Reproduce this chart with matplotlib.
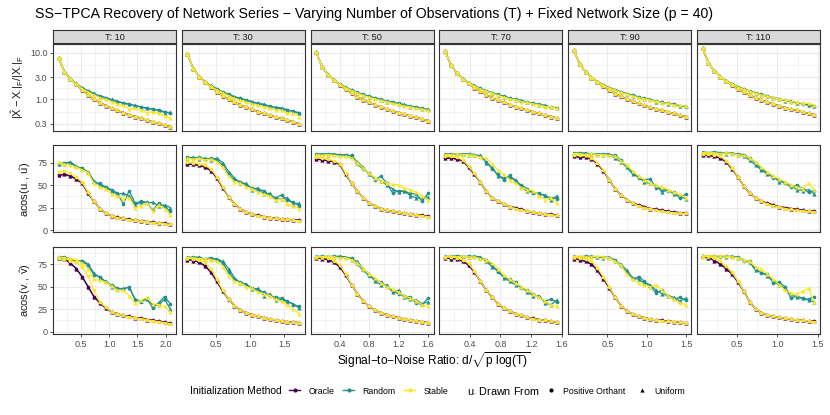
import numpy as np
import matplotlib.pyplot as plt
from matplotlib.lines import Line2D
from matplotlib.ticker import FixedLocator, NullFormatter

plt.rcParams['font.family'] = ['Liberation Sans', 'DejaVu Sans']
plt.rcParams['mathtext.fontset'] = 'custom'
plt.rcParams['mathtext.rm'] = 'Liberation Sans'
plt.rcParams['mathtext.it'] = 'Liberation Sans'
plt.rcParams['mathtext.bf'] = 'Liberation Sans:bold'

# ---- data -------------------------------------------------------------
T_values = [10, 30, 50, 70, 90, 110]
p_size = 40
snr_d = [1, 2, 3, 4, 5, 6, 7, 8, 9, 10, 11, 12, 13, 14, 15, 16, 17, 18, 19, 20]

methods = ['Oracle', 'Random', 'Stable']
method_colors = ['#440154', '#21908C', '#FDE725']
draws = ['Positive Orthant', 'Uniform']
draw_markers = ['o', '^']

# relative error |X^ - X|_F / |X|_F   (one list per T)
err_oracle = [
    [7.6, 3.9, 2.7, 2.1, 1.6, 1.25, 1.0, 0.85, 0.74, 0.65, 0.58, 0.52, 0.47, 0.43, 0.39, 0.36, 0.33, 0.31, 0.28, 0.26],
    [9.5, 4.6, 3.1, 2.35, 1.85, 1.45, 1.2, 1.0, 0.87, 0.77, 0.68, 0.61, 0.55, 0.5, 0.46, 0.42, 0.39, 0.36, 0.33, 0.30],
    [10.2, 5.0, 3.4, 2.6, 2.05, 1.65, 1.35, 1.13, 0.98, 0.86, 0.77, 0.69, 0.62, 0.56, 0.52, 0.48, 0.44, 0.41, 0.38, 0.35],
    [11.0, 5.4, 3.7, 2.8, 2.2, 1.8, 1.5, 1.26, 1.09, 0.96, 0.86, 0.77, 0.7, 0.64, 0.59, 0.54, 0.5, 0.46, 0.43, 0.4],
    [11.6, 5.7, 3.9, 2.95, 2.35, 1.9, 1.58, 1.34, 1.16, 1.02, 0.91, 0.82, 0.75, 0.68, 0.63, 0.58, 0.54, 0.5, 0.46, 0.43],
    [12.5, 6.0, 4.1, 3.1, 2.45, 2.0, 1.67, 1.42, 1.23, 1.08, 0.97, 0.88, 0.8, 0.73, 0.67, 0.62, 0.58, 0.54, 0.5, 0.47],
]
err_random_po = [
    [7.6, 3.9, 2.75, 2.15, 1.8, 1.5, 1.3, 1.2, 1.1, 0.98, 0.9, 0.85, 0.8, 0.72, 0.7, 0.64, 0.62, 0.58, 0.55, 0.5],
    [9.5, 4.6, 3.1, 2.4, 1.95, 1.65, 1.45, 1.3, 1.15, 1.05, 0.95, 0.88, 0.82, 0.76, 0.72, 0.66, 0.63, 0.58, 0.56, 0.52],
    [10.2, 5.0, 3.4, 2.6, 2.1, 1.8, 1.6, 1.42, 1.28, 1.17, 1.08, 1.0, 0.93, 0.86, 0.82, 0.76, 0.72, 0.68, 0.64, 0.6],
    [11.0, 5.4, 3.7, 2.8, 2.3, 1.95, 1.72, 1.55, 1.4, 1.28, 1.17, 1.08, 1.0, 0.94, 0.88, 0.82, 0.78, 0.73, 0.69, 0.65],
    [11.6, 5.7, 3.9, 2.95, 2.4, 2.05, 1.8, 1.62, 1.47, 1.34, 1.23, 1.14, 1.06, 0.99, 0.93, 0.87, 0.82, 0.78, 0.74, 0.7],
    [12.5, 6.0, 4.1, 3.1, 2.5, 2.15, 1.88, 1.68, 1.52, 1.4, 1.28, 1.18, 1.1, 1.02, 0.96, 0.9, 0.85, 0.8, 0.76, 0.72],
]
err_random_un = [
    [7.7, 4.0, 2.8, 2.2, 1.75, 1.55, 1.35, 1.15, 1.05, 1.0, 0.92, 0.82, 0.78, 0.75, 0.68, 0.66, 0.6, 0.6, 0.52, 0.53],
    [9.6, 4.7, 3.15, 2.4, 2.0, 1.7, 1.45, 1.25, 1.12, 1.05, 0.98, 0.9, 0.8, 0.8, 0.7, 0.68, 0.66, 0.6, 0.55, 0.5],
    [10.3, 5.1, 3.45, 2.65, 2.15, 1.85, 1.58, 1.4, 1.25, 1.15, 1.05, 0.98, 0.9, 0.88, 0.8, 0.78, 0.7, 0.7, 0.62, 0.62],
    [11.1, 5.5, 3.75, 2.85, 2.3, 2.0, 1.7, 1.52, 1.38, 1.25, 1.15, 1.06, 0.98, 0.95, 0.86, 0.84, 0.76, 0.75, 0.68, 0.67],
    [11.7, 5.8, 3.95, 3.0, 2.42, 2.08, 1.78, 1.6, 1.44, 1.32, 1.2, 1.12, 1.04, 1.0, 0.9, 0.89, 0.8, 0.8, 0.72, 0.72],
    [12.6, 6.1, 4.15, 3.15, 2.52, 2.18, 1.86, 1.66, 1.5, 1.38, 1.25, 1.16, 1.08, 1.04, 0.94, 0.92, 0.84, 0.82, 0.75, 0.74],
]
err_stable_un = [
    [7.7, 3.9, 2.7, 2.15, 1.7, 1.45, 1.25, 1.1, 1.0, 0.9, 0.8, 0.75, 0.62, 0.65, 0.6, 0.52, 0.55, 0.5, 0.45, 0.4],
    [9.6, 4.6, 3.1, 2.4, 1.9, 1.6, 1.4, 1.2, 1.05, 0.95, 0.88, 0.8, 0.75, 0.7, 0.65, 0.6, 0.58, 0.5, 0.5, 0.43],
    [10.3, 5.0, 3.4, 2.6, 2.1, 1.78, 1.55, 1.38, 1.22, 1.12, 1.02, 0.95, 0.9, 0.82, 0.78, 0.72, 0.7, 0.64, 0.62, 0.58],
    [11.1, 5.4, 3.7, 2.8, 2.25, 1.92, 1.68, 1.5, 1.36, 1.22, 1.12, 1.04, 0.98, 0.9, 0.86, 0.8, 0.76, 0.7, 0.7, 0.64],
    [11.7, 5.7, 3.9, 2.95, 2.38, 2.02, 1.76, 1.58, 1.42, 1.3, 1.19, 1.1, 1.04, 0.96, 0.92, 0.85, 0.82, 0.76, 0.76, 0.72],
    [12.6, 6.0, 4.1, 3.1, 2.5, 2.12, 1.84, 1.65, 1.5, 1.36, 1.25, 1.16, 1.1, 1.02, 0.98, 0.9, 0.88, 0.82, 0.82, 0.76],
]

# angle between u and u-hat (degrees)
angu_oracle = [
    [61, 62, 60, 57, 52, 41, 32, 24, 19, 16, 14.5, 13, 12, 11, 10.5, 9.5, 9, 8, 7.5, 7],
    [73, 73, 72, 70, 66, 58, 47, 37, 29, 24, 20, 18, 16.5, 15, 14, 13.5, 12.5, 12, 11.5, 11],
    [79, 78, 77, 76, 73, 62, 52, 43, 36, 30, 27, 24, 22, 21, 20, 19, 18, 17, 16.5, 15.5],
    [80, 80, 79, 77, 70, 62, 53, 43, 36, 32, 29, 26, 25, 23, 21, 20, 19, 18, 17.5, 17],
    [82, 81, 81, 79, 74, 66, 56, 46, 39, 34, 30, 28, 26, 24, 23, 22, 21, 20, 19.5, 19],
    [83, 83, 82, 80, 76, 68, 59, 49, 41, 36, 32, 30, 28, 26, 25, 24, 23, 22, 21.5, 21],
]
angu_stable_po = [
    [65, 66, 63, 59, 53, 42, 32, 24, 19, 16, 14, 13, 11.5, 11, 10, 9.5, 8.5, 8, 7, 6.5],
    [76, 75, 74, 72, 68, 59, 48, 37, 29, 24, 20, 18, 16, 15, 14, 13, 12.5, 12, 11, 10.5],
    [81, 80, 79, 77, 74, 63, 52, 43, 36, 30, 27, 24, 22, 21, 20, 19, 18, 17, 16, 15],
    [82, 82, 81, 78, 71, 63, 53, 43, 36, 32, 29, 26, 24, 22, 21, 20, 19, 18, 17, 16.5],
    [84, 84, 83, 80, 75, 67, 56, 46, 39, 34, 30, 27, 25, 24, 22, 21, 20, 19.5, 19, 18.5],
    [85, 85, 84, 82, 77, 69, 59, 49, 41, 36, 32, 29, 27, 26, 24, 23, 22, 21.5, 21, 20.5],
]
angu_random_po = [
    [73, 75, 75, 70, 69, 64, 53, 52, 48, 45, 41, 29, 44, 30, 32, 31, 22, 30, 26, 21],
    [81, 80, 81, 79, 80, 78, 72, 62, 56, 54, 50, 47, 45, 44, 38, 36, 39, 33, 31, 27],
    [85, 84, 85, 84, 84, 83, 83, 73, 68, 63, 56, 60, 52, 41, 44, 43, 41, 40, 32, 41],
    [84, 85, 84, 84, 85, 84, 82, 76, 68, 62, 56, 61, 54, 50, 46, 41, 41, 38, 36, 35],
    [85, 86, 85, 85, 84, 85, 84, 83, 78, 71, 64, 58, 56, 57, 47, 46, 44, 42, 36, 40],
    [86, 86, 87, 86, 86, 85, 85, 84, 80, 75, 68, 64, 58, 56, 52, 48, 50, 46, 42, 44],
]
angu_random_un = [
    [74, 74, 76, 71, 68, 65, 55, 50, 47, 44, 40, 41, 38, 28, 31, 30, 31, 27, 28, 25],
    [80, 81, 79, 80, 78, 80, 75, 65, 58, 52, 52, 45, 47, 40, 41, 34, 35, 36, 29, 30],
    [84, 85, 84, 85, 83, 84, 82, 76, 70, 62, 58, 55, 50, 46, 42, 44, 38, 36, 35, 37],
    [85, 84, 85, 85, 84, 83, 83, 75, 70, 60, 58, 59, 56, 48, 43, 42, 40, 39, 33, 38],
    [86, 85, 86, 84, 85, 84, 85, 80, 76, 70, 62, 60, 53, 52, 50, 42, 45, 40, 38, 35],
    [87, 86, 86, 86, 85, 86, 84, 82, 78, 72, 67, 62, 60, 54, 53, 50, 45, 44, 45, 40],
]
angu_stable_un = [
    [76, 73, 72, 70, 67, 64, 52, 48, 46, 40, 38, 35, 36, 25, 27, 30, 21, 28, 24, 17],
    [80, 79, 80, 78, 79, 76, 70, 60, 54, 52, 48, 46, 42, 40, 38, 33, 35, 29, 27, 24],
    [84, 83, 84, 83, 82, 82, 80, 75, 69, 63, 58, 55, 52, 51, 50, 47, 45, 42, 38, 34],
    [84, 84, 85, 84, 84, 83, 81, 80, 74, 67, 62, 56, 52, 47, 45, 44, 38, 34, 36, 30],
    [85, 85, 84, 85, 84, 84, 83, 82, 77, 72, 66, 60, 56, 52, 50, 48, 45, 42, 40, 36],
    [86, 86, 86, 85, 86, 85, 84, 83, 80, 76, 70, 65, 60, 57, 54, 50, 48, 46, 52, 45],
]

# angle between v and v-hat (degrees)
angv_oracle = [
    [82, 81, 76, 70, 61, 50, 39, 32, 26, 22, 20, 18, 17, 15.5, 15, 13.5, 12.5, 11.5, 10.5, 9.6],
    [80, 79, 77, 73, 66, 56, 45, 36, 29, 24, 21, 19, 17, 15.5, 14, 13, 12, 11, 10.5, 10],
    [82, 81, 80, 77, 72, 63, 52, 42, 34, 28, 24, 21, 19, 17, 15.5, 14, 13, 12, 11, 10],
    [82, 81, 81, 78, 74, 66, 56, 46, 38, 31, 26, 23, 20, 18, 16, 15, 13.5, 12.5, 11.5, 10.5],
    [81, 80, 78, 75, 68, 59, 49, 38, 29, 23, 19.5, 17, 15.5, 14, 13, 12.5, 12, 11, 10.5, 10],
    [84, 82, 79, 75, 70, 64, 55, 45, 33, 25, 21, 18.5, 17, 16, 15, 14, 13, 12.5, 12, 11.4],
]
angv_stable_po = [
    [82, 82, 79, 77, 72, 62, 46, 33, 27, 22, 20, 18, 16.5, 15.5, 14.5, 13, 12, 11, 10, 9],
    [82, 81, 80, 77, 70, 58, 46, 36, 29, 24, 21, 19, 17, 15.5, 14, 13, 12, 11, 10.5, 9.5],
    [83, 83, 82, 79, 74, 64, 52, 42, 34, 28, 24, 21, 19, 17, 15, 14, 13, 12, 11, 10],
    [83, 83, 82, 80, 76, 67, 56, 46, 38, 31, 26, 23, 20, 18, 16, 14.5, 13.5, 12.5, 11.5, 10.5],
    [83, 82, 81, 78, 71, 61, 50, 38, 29, 23, 19.5, 17, 15.5, 14, 13, 12, 11.5, 11, 10.5, 10],
    [84, 84, 82, 78, 73, 66, 56, 45, 33, 25, 21, 18.5, 17, 16, 15, 14, 13, 12.5, 12, 11],
]
angv_random_po = [
    [83, 83, 80, 79, 78, 74, 63, 61, 55, 52, 48, 47, 50, 35, 33, 37, 26, 32, 39, 31],
    [82, 83, 82, 81, 82, 80, 76, 66, 58, 55, 52, 48, 46, 44, 40, 38, 37, 34, 30, 28],
    [83, 84, 83, 84, 83, 82, 82, 75, 68, 62, 58, 55, 50, 45, 42, 40, 38, 32, 30, 37],
    [83, 84, 84, 83, 84, 83, 82, 80, 74, 66, 61, 58, 55, 48, 46, 42, 38, 34, 36, 33],
    [83, 83, 84, 83, 83, 83, 82, 80, 73, 66, 58, 61, 56, 50, 43, 46, 40, 36, 38, 35],
    [83, 84, 84, 83, 84, 83, 83, 79, 78, 70, 65, 64, 54, 55, 50, 37, 40, 37, 36, 39],
]
angv_random_un = [
    [82, 82, 81, 78, 79, 75, 65, 60, 56, 50, 47, 48, 49, 36, 34, 36, 30, 30, 36, 25],
    [83, 82, 83, 80, 81, 81, 78, 70, 60, 54, 53, 47, 48, 40, 42, 35, 36, 33, 31, 26],
    [84, 83, 84, 83, 84, 83, 80, 78, 70, 64, 56, 52, 52, 44, 46, 38, 36, 35, 31, 33],
    [84, 83, 84, 84, 83, 84, 83, 78, 72, 68, 60, 56, 52, 50, 44, 40, 40, 32, 30, 35],
    [84, 83, 83, 84, 83, 82, 83, 78, 75, 68, 60, 58, 54, 52, 46, 42, 40, 38, 34, 37],
    [84, 83, 83, 84, 83, 84, 82, 80, 77, 68, 66, 62, 56, 52, 48, 42, 38, 37, 35, 33],
]
angv_stable_un = [
    [83, 81, 81, 80, 76, 70, 58, 57, 55, 51, 46, 46, 40, 32, 35, 38, 31, 30, 28, 22],
    [82, 82, 81, 81, 80, 78, 72, 62, 56, 54, 50, 48, 44, 42, 40, 36, 34, 30, 25, 20],
    [83, 83, 84, 83, 82, 82, 80, 76, 70, 64, 60, 54, 50, 47, 44, 40, 37, 34, 30, 28],
    [83, 84, 83, 84, 83, 83, 81, 80, 76, 70, 63, 58, 54, 50, 46, 42, 38, 34, 30, 28],
    [83, 84, 83, 83, 84, 83, 82, 78, 74, 64, 58, 54, 52, 50, 52, 46, 40, 36, 32, 30],
    [83, 84, 84, 84, 84, 83, 82, 80, 78, 72, 70, 64, 59, 52, 46, 43, 42, 45, 48, 33],
]

row_labels = [r'$|\hat{X} - X_{\cdot}|_F / |X_{\cdot}|_F$',
              r'$\mathrm{acos}(u_{\cdot}\,,\,\hat{u})$',
              r'$\mathrm{acos}(v_{\cdot}\,,\,\hat{v})$']
x_ticks = [[0.5, 1.0, 1.5, 2.0], [0.5, 1.0, 1.5], [0.4, 0.8, 1.2, 1.6],
           [0.4, 0.8, 1.2, 1.6], [0.5, 1.0, 1.5], [0.5, 1.0, 1.5]]

# (method index, draw index) -> series per row
rows = [
    {(0, 0): err_oracle, (0, 1): err_oracle, (1, 0): err_random_po,
     (1, 1): err_random_un, (2, 0): err_oracle, (2, 1): err_stable_un},
    {(0, 0): angu_oracle, (0, 1): angu_oracle, (1, 0): angu_random_po,
     (1, 1): angu_random_un, (2, 0): angu_stable_po, (2, 1): angu_stable_un},
    {(0, 0): angv_oracle, (0, 1): angv_oracle, (1, 0): angv_random_po,
     (1, 1): angv_random_un, (2, 0): angv_stable_po, (2, 1): angv_stable_un},
]

# ---- layout (pixels) --------------------------------------------------
W, H = 830, 415
fig = plt.figure(figsize=(W / 100, H / 100), dpi=100)


def box(l, t, w, h):
    return [l / W, 1 - (t + h) / H, w / W, h / H]


col_left = [53 + i * 128.8 for i in range(6)]
row_top = [44, 145.5, 247]
pw, ph = 123, 87
grid_c = '#EBEBEB'
frame_c = '#333333'
tick_lab_c = '#4D4D4D'

for j, T in enumerate(T_values):
    x = np.array(snr_d) / np.sqrt(p_size * np.log(T))
    span = x.max() - x.min()
    xlim = (x.min() - 0.05 * span, x.max() + 0.05 * span)

    # strip on top of each column
    sax = fig.add_axes(box(col_left[j], 30, pw, 13.5))
    sax.set_facecolor('#D9D9D9')
    sax.set_xticks([])
    sax.set_yticks([])
    for s in sax.spines.values():
        s.set_color(frame_c)
        s.set_linewidth(0.8)
    sax.text(0.5, 0.48, f'T: {T}', ha='center', va='center', fontsize=6.6,
             color='#1A1A1A', transform=sax.transAxes)

    for i in range(3):
        ax = fig.add_axes(box(col_left[j], row_top[i], pw, ph))
        series = rows[i]
        for (m, d) in [(0, 0), (0, 1), (1, 0), (1, 1), (2, 0), (2, 1)]:
            ax.plot(x, series[(m, d)][j], color=method_colors[m], lw=0.9,
                    marker=draw_markers[d], ms=2.6 if d == 0 else 3.0,
                    markeredgewidth=0, zorder=3)

        ax.set_xlim(xlim)
        xt = x_ticks[j]
        ax.xaxis.set_major_locator(FixedLocator(xt))
        step = xt[1] - xt[0]
        ax.xaxis.set_minor_locator(FixedLocator(
            [t - step / 2 for t in xt] + [xt[-1] + step / 2]))
        if i == 0:
            ax.set_yscale('log')
            ax.set_ylim(0.21, 15.5)
            yt = [0.3, 1.0, 3.0, 10.0]
            ax.yaxis.set_major_locator(FixedLocator(yt))
            ax.yaxis.set_minor_locator(FixedLocator([0.548, 1.732, 5.477]))
            ax.yaxis.set_minor_formatter(NullFormatter())
            ylabs = ['0.3', '1.0', '3.0', '10.0']
        else:
            ax.set_ylim(-2.6, 94)
            yt = [0, 25, 50, 75]
            ax.yaxis.set_major_locator(FixedLocator(yt))
            ax.yaxis.set_minor_locator(FixedLocator([12.5, 37.5, 62.5, 87.5]))
            ylabs = ['0', '25', '50', '75']

        ax.grid(True, which='major', color=grid_c, lw=0.8, zorder=0)
        ax.grid(True, which='minor', color=grid_c, lw=0.4, zorder=0)
        ax.set_axisbelow(True)
        for s in ax.spines.values():
            s.set_color(frame_c)
            s.set_linewidth(0.8)
        ax.tick_params(which='minor', length=0)
        ax.tick_params(which='major', length=2.5, width=0.6, color=frame_c,
                       labelsize=6.5, labelcolor=tick_lab_c, pad=1.5)

        if j == 0:
            ax.set_yticklabels(ylabs)
            ax.set_ylabel(row_labels[i], fontsize=8, color='#1A1A1A', labelpad=3)
        else:
            ax.tick_params(axis='y', which='major', length=0, labelleft=False)
        if i == 2:
            ax.set_xticklabels([f'{t:.1f}' for t in xt])
        else:
            ax.tick_params(axis='x', which='major', length=0, labelbottom=False)

# ---- text -------------------------------------------------------------
fig.text(35 / W, 1 - 14 / H,
         'SS\u2212TPCA Recovery of Network Series \u2212 Varying Number of Observations (T) + Fixed Network Size (p = 40)',
         fontsize=10.2, color='black', va='center', ha='left')
fig.text(434 / W, 1 - 350 / H,
         r'Signal$-$to$-$Noise Ratio: d/$\sqrt{\mathrm{p\ log(T)}}$',
         fontsize=8.6, ha='center', va='top', color='black')

leg_y = 1 - 391 / H
fig.text(190 / W, leg_y, 'Initialization Method', fontsize=7.5, va='center', ha='left')
h1 = [Line2D([], [], color=c, marker='o', ms=3, lw=1, markeredgewidth=0)
      for c in method_colors]
fig.legend(h1, methods, loc='center left', bbox_to_anchor=(289 / W, leg_y),
           ncol=3, frameon=False, fontsize=6.3, handlelength=1.3,
           handletextpad=0.9, columnspacing=1.0, borderpad=0, borderaxespad=0)

fig.text(467 / W, leg_y, r'u$_{\cdot}$ Drawn From', fontsize=7.8, va='center', ha='left')
h2 = [Line2D([], [], color='black', marker=mk, ms=3, ls='none', markeredgewidth=0)
      for mk in draw_markers]
fig.legend(h2, draws, loc='center left', bbox_to_anchor=(545 / W, leg_y),
           ncol=2, frameon=False, fontsize=6.3, handlelength=1.3,
           handletextpad=0.8, columnspacing=1.2, borderpad=0, borderaxespad=0)

fig.savefig('out.png', dpi=100)
